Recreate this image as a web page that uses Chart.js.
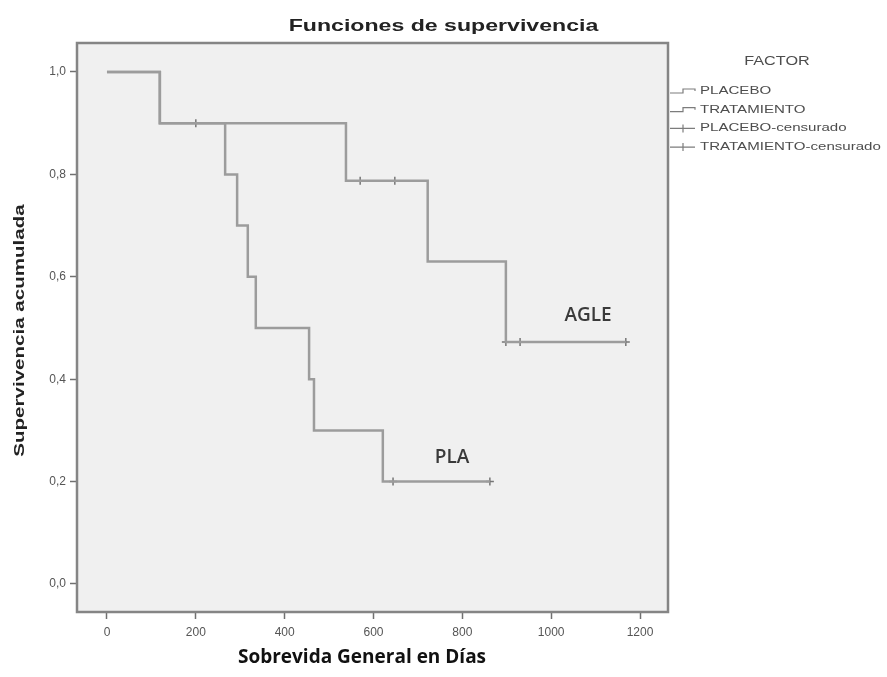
<!DOCTYPE html>
<html>
<head>
<meta charset="utf-8">
<script src="https://cdn.jsdelivr.net/npm/chart.js@4.4.1/dist/chart.umd.min.js"></script>
<style>
  html, body { margin: 0; padding: 0; background: #fff; }
  #caja { width: 887px; height: 677px; }
</style>
</head>
<body>
<div id="caja"><canvas id="km"></canvas></div>
<script>
// curvas de Kaplan-Meier (dias, supervivencia)
const plaDias = [0, 119, 266, 293, 317, 335, 455, 466, 621, 862];
const plaSuperv = [1, 0.9, 0.8, 0.7, 0.6, 0.5, 0.4, 0.3, 0.2, 0.2];
const agleDias = [0, 119, 538, 722, 898, 1168];
const agleSuperv = [1, 0.9, 0.7875, 0.63, 0.4725, 0.4725];

// casos censurados
const plaCensDias = [644, 862];
const plaCensSuperv = [0.2, 0.2];
const agleCensDias = [200, 570, 648, 898, 930, 1168];
const agleCensSuperv = [0.9, 0.7875, 0.7875, 0.4725, 0.4725, 0.4725];

const xTicks = [0, 200, 400, 600, 800, 1000, 1200];
const yTicks = [0, 0.2, 0.4, 0.6, 0.8, 1.0];

const etiquetas = ['AGLE', 'PLA'];
const etiquetaDias = [1083, 777];
const etiquetaSuperv = [0.524, 0.246];

const titulo = 'Funciones de supervivencia';
const tituloX = 'Sobrevida General en Días';
const tituloY = 'Supervivencia acumulada';

const pts = (xs, ys) => xs.map((x, i) => ({ x: x, y: ys[i] }));

// el grafico original viene estirado a lo ancho, se imita con scale()
function textoEstirado(ctx, t, x, y, font, escala, color, angulo, alinear) {
  ctx.save();
  ctx.translate(x, y);
  if (angulo) ctx.rotate(angulo);
  ctx.scale(escala, 1);
  ctx.font = font;
  ctx.fillStyle = color;
  ctx.textAlign = alinear || 'center';
  ctx.textBaseline = 'middle';
  ctx.fillText(t, 0, 0);
  ctx.restore();
}

// fondo gris y marco del area de la grafica
const marco = {
  id: 'marco',
  beforeDraw(chart) {
    const a = chart.chartArea, ctx = chart.ctx;
    ctx.save();
    ctx.fillStyle = '#f0f0f0';
    ctx.fillRect(a.left, a.top, a.right - a.left, a.bottom - a.top);
    ctx.restore();
  },
  afterDraw(chart) {
    const a = chart.chartArea, ctx = chart.ctx;
    ctx.save();
    ctx.strokeStyle = '#858585';
    ctx.lineWidth = 2.5;
    ctx.strokeRect(a.left, a.top, a.right - a.left, a.bottom - a.top);
    ctx.restore();
    // titulos
    textoEstirado(ctx, titulo, chart.width / 2, 26, 'bold 17px "Liberation Sans"', 1.36, '#222');
    textoEstirado(ctx, tituloY, 20, (a.top + a.bottom) / 2 + 3, 'bold 15px "Liberation Sans"', 1.37, '#222', -Math.PI / 2);
    textoEstirado(ctx, tituloX, 362, 658, 'bold 19px "Open Sans"', 1, '#111');
  }
};

// textos AGLE / PLA dentro de la grafica
const rotulos = {
  id: 'rotulos',
  afterDatasetsDraw(chart) {
    const ctx = chart.ctx, sx = chart.scales.x, sy = chart.scales.y;
    etiquetas.forEach((t, i) => {
      textoEstirado(ctx, t, sx.getPixelForValue(etiquetaDias[i]), sy.getPixelForValue(etiquetaSuperv[i]),
        '600 19px "Open Sans"', 1, '#3a3a3a');
    });
  }
};

// leyenda "FACTOR" a la derecha, como caja del layout
function dibujarLeyenda(chart, box) {
  const ctx = chart.ctx;
  const x0 = box.left;
  textoEstirado(ctx, 'FACTOR', x0 + 109, 62, '12px "Liberation Sans"', 1.35, '#4d4d4d');
  ctx.save();
  ctx.strokeStyle = '#7c7c7c';
  ctx.lineWidth = 1.2;
  chart.data.datasets.forEach((ds, i) => {
    const y = 91 + i * 18.7;
    ctx.beginPath();
    if (ds.showLine === false) {
      ctx.moveTo(x0 + 2, y);
      ctx.lineTo(x0 + 27, y);
      ctx.moveTo(x0 + 15, y - 4);
      ctx.lineTo(x0 + 15, y + 4);
    } else {
      ctx.moveTo(x0 + 2, y + 2);
      ctx.lineTo(x0 + 15, y + 2);
      ctx.lineTo(x0 + 15, y - 2);
      ctx.lineTo(x0 + 27, y - 2);
      ctx.lineTo(x0 + 27, y);
    }
    ctx.stroke();
    textoEstirado(ctx, ds.label, x0 + 32, y, '11px "Liberation Sans"', 1.37, '#4d4d4d', 0, 'left');
  });
  ctx.restore();
}

const leyendaFactor = {
  id: 'leyendaFactor',
  beforeInit(chart) {
    const box = {
      position: 'right',
      weight: 10,
      fullSize: false,
      options: {},
      left: 0, top: 0, right: 0, bottom: 0, width: 0, height: 0,
      isHorizontal() { return false; },
      update(maxWidth, maxHeight) { this.width = 219; this.height = maxHeight; },
      draw() { dibujarLeyenda(chart, this); }
    };
    Chart.layouts.addBox(chart, box);
  }
};

const marcas = {
  drawOnChartArea: false,
  drawTicks: true,
  tickLength: 7,
  tickWidth: 1.5,
  tickColor: '#707070'
};

const data = {
  datasets: [
    {
      label: 'PLACEBO',
      data: pts(plaDias, plaSuperv),
      stepped: 'before',
      borderColor: '#9c9c9c',
      borderWidth: 2.5,
      pointRadius: 0,
      fill: false
    },
    {
      label: 'TRATAMIENTO',
      data: pts(agleDias, agleSuperv),
      stepped: 'before',
      borderColor: '#9c9c9c',
      borderWidth: 2.5,
      pointRadius: 0,
      fill: false
    },
    {
      label: 'PLACEBO-censurado',
      data: pts(plaCensDias, plaCensSuperv),
      showLine: false,
      pointStyle: 'cross',
      pointRadius: 4,
      borderColor: '#767676',
      borderWidth: 1.5
    },
    {
      label: 'TRATAMIENTO-censurado',
      data: pts(agleCensDias, agleCensSuperv),
      showLine: false,
      pointStyle: 'cross',
      pointRadius: 4,
      borderColor: '#767676',
      borderWidth: 1.5
    }
  ]
};

const config = {
  type: 'line',
  data: data,
  options: {
    responsive: true,
    maintainAspectRatio: false,
    animation: false,
    layout: { padding: { top: 43, left: 0, right: 0, bottom: 0 } },
    plugins: {
      legend: { display: false },
      tooltip: { enabled: false },
      title: { display: false }
    },
    scales: {
      x: {
        type: 'linear',
        min: -67.5,
        max: 1263,
        afterBuildTicks: (s) => { s.ticks = xTicks.map((v) => ({ value: v })); },
        afterFit: (s) => { s.height = 65; },
        grid: marcas,
        border: { display: false },
        ticks: {
          padding: 6,
          color: '#555',
          maxRotation: 0,
          autoSkip: false,
          font: { family: 'Liberation Sans', size: 12 },
          callback: (v) => String(v)
        }
      },
      y: {
        min: -0.0547,
        max: 1.0566,
        afterBuildTicks: (s) => { s.ticks = yTicks.map((v) => ({ value: v })); },
        afterFit: (s) => { s.width = 77; },
        grid: marcas,
        border: { display: false },
        ticks: {
          padding: 4,
          color: '#555',
          font: { family: 'Liberation Sans', size: 12 },
          callback: (v) => Number(v).toFixed(1).replace('.', ',')
        }
      }
    }
  },
  plugins: [marco, rotulos, leyendaFactor]
};

new Chart(document.getElementById('km').getContext('2d'), config);
</script>
</body>
</html>
